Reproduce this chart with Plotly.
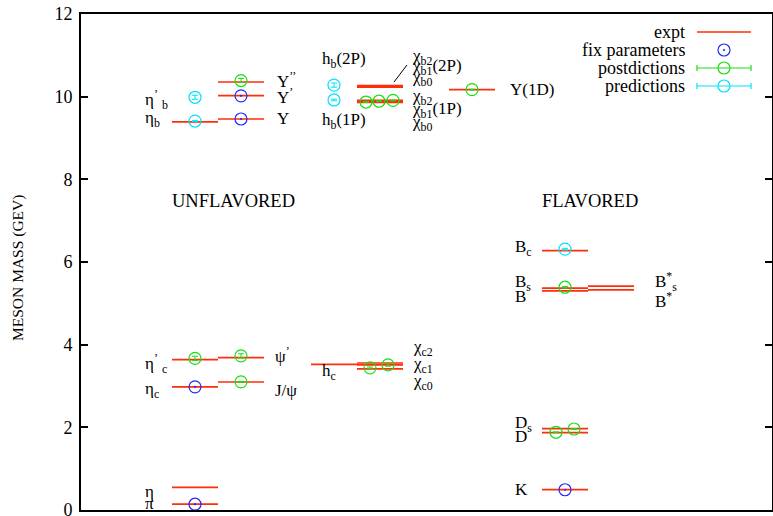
import plotly.graph_objects as go

# ---------------- data (masses in GeV) ----------------
# experimental levels: name, column, mass
expt_names = ["π", "η", "η_c", "η'_c", "η_b",
              "J/ψ", "ψ'", "Y", "Y'", "Y''",
              "h_c",
              "χ_c0", "χ_c1", "χ_c2",
              "χ_b0(1P)", "χ_b1(1P)", "χ_b2(1P)",
              "χ_b0(2P)", "χ_b1(2P)", "χ_b2(2P)",
              "Y(1D)",
              "K", "D", "D_s", "B", "B_s", "B_c",
              "B*", "B*_s"]
expt_col = ["A", "A", "A", "A", "A",
            "B", "B", "B", "B", "B",
            "C",
            "D", "D", "D",
            "D", "D", "D",
            "D", "D", "D",
            "E",
            "F", "F", "F", "F", "F", "F",
            "G", "G"]
expt_mass = [0.140, 0.548, 2.98, 3.64, 9.39,
             3.097, 3.686, 9.46, 10.023, 10.355,
             3.525,
             3.415, 3.511, 3.556,
             9.859, 9.893, 9.912,
             10.232, 10.255, 10.269,
             10.17,
             0.494, 1.87, 1.968, 5.30, 5.367, 6.275,
             5.325, 5.415]

# fitted parameters (blue)
fix_col = ["A", "A", "B", "B", "F"]
fix_mass = [0.14, 2.98, 9.46, 10.02, 0.49]

# postdictions (green)
post_col = ["A", "B", "B", "B", "D", "D", "D", "D", "D", "E", "F", "F", "F"]
post_slot = [0, 0, 0, 0, -10, 8, -14, -1, 13, 0, -9, 9, 0]
post_mass = [3.67, 3.10, 3.73, 10.39, 3.44, 3.51, 9.87, 9.89, 9.91, 10.17, 1.88, 1.96, 5.39]
post_err = [0.05, 0.01, 0.05, 0.05, 0.02, 0.03, 0.01, 0.01, 0.01, 0.01, 0.01, 0.01, 0.02]

# predictions (cyan)
pred_col = ["A", "A", "C", "C", "F"]
pred_mass = [9.985, 9.41, 10.28, 9.92, 6.31]
pred_err = [0.05, 0.01, 0.05, 0.02, 0.02]

y_ticks = [0, 2, 4, 6, 8, 10, 12]

# ---------------- layout constants ----------------
W, H = 773, 516
L, R, T, B = 81, 772, 14, 510
col_center = {"A": 195, "B": 241, "C": 334, "D": 380, "E": 472, "F": 565, "G": 611}
HALF = 23
SERIF = "Liberation Serif"
RED = "rgb(255,45,10)"
BLUE = "rgb(30,40,255)"
GREEN = "rgb(20,225,20)"
CYAN = "rgb(0,225,255)"

fig = go.Figure()

# experimental levels
lx, ly = [], []
for c, m in zip(expt_col, expt_mass):
    x0 = col_center[c]
    lx += [x0 - HALF, x0 + HALF, None]
    ly += [m, m, None]
fig.add_trace(go.Scatter(x=lx, y=ly, mode="lines", line=dict(color=RED, width=1.7),
                         showlegend=False, hoverinfo="skip", cliponaxis=False))

fig.add_trace(go.Scatter(x=[col_center[c] for c in fix_col], y=fix_mass, mode="markers",
                         marker=dict(symbol="circle-open-dot", size=12, color=BLUE,
                                     line=dict(width=1.2, color=BLUE)),
                         showlegend=False, cliponaxis=False))

fig.add_trace(go.Scatter(x=[col_center[c] + s for c, s in zip(post_col, post_slot)], y=post_mass,
                         mode="markers",
                         error_y=dict(type="data", array=post_err, color=GREEN, thickness=1, width=3),
                         marker=dict(symbol="circle-open", size=12, color=GREEN,
                                     line=dict(width=1.2, color=GREEN)),
                         showlegend=False, cliponaxis=False))

fig.add_trace(go.Scatter(x=[col_center[c] for c in pred_col], y=pred_mass, mode="markers",
                         error_y=dict(type="data", array=pred_err, color=CYAN, thickness=1, width=3),
                         marker=dict(symbol="circle-open", size=12, color=CYAN,
                                     line=dict(width=1.2, color=CYAN)),
                         showlegend=False, cliponaxis=False))

# ---------------- hand-drawn key (gnuplot style, text right of sample) ----------------
def fx(px):
    return (px - L) / (R - L)

def fy(py):
    return (B - py) / (B - T)

key_rows = [("expt", 32), ("fix parameters", 50), ("postdictions", 68), ("predictions", 86)]
kx = [fx(697), fx(751)]
fig.add_trace(go.Scatter(x=kx, y=[fy(32)] * 2, mode="lines", line=dict(color=RED, width=1.7),
                         xaxis="x2", yaxis="y2", showlegend=False, hoverinfo="skip"))
fig.add_trace(go.Scatter(x=[fx(724)], y=[fy(50)], mode="markers", xaxis="x2", yaxis="y2",
                         marker=dict(symbol="circle-open-dot", size=12, color=BLUE,
                                     line=dict(width=1.2, color=BLUE)),
                         showlegend=False, hoverinfo="skip"))
for col, py in [(GREEN, 68), (CYAN, 86)]:
    fig.add_trace(go.Scatter(x=[fx(724)], y=[fy(py)], mode="markers", xaxis="x2", yaxis="y2",
                             error_x=dict(type="data", array=[fx(751) - fx(724)], color=col,
                                          thickness=1.2, width=3),
                             marker=dict(symbol="circle-open", size=12, color=col,
                                         line=dict(width=1.2, color=col)),
                             showlegend=False, hoverinfo="skip"))

annotations = []
for txt, py in key_rows:
    annotations.append(dict(x=fx(687), y=fy(py), xref="paper", yref="paper", text=txt,
                            xanchor="right", yanchor="middle", showarrow=False,
                            font=dict(family=SERIF, size=18, color="black")))

# ---------------- state labels ----------------
labels = [
    ("η<sub>b</sub>", 143, 119), ("η<sup>’</sup> <sub>b</sub>", 143, 99),
    ("Y<sup>’’</sup>", 275, 80), ("Y<sup>’</sup>", 275, 96), ("Y", 275, 118),
    ("h<sub>b</sub>(2P)", 320, 60), ("h<sub>b</sub>(1P)", 320, 121),
    ("χ<sub>b2</sub>", 410, 57), ("χ<sub>b1</sub>(2P)", 410, 67), ("χ<sub>b0</sub>", 410, 78),
    ("χ<sub>b2</sub>", 410, 97), ("χ<sub>b1</sub>(1P)", 410, 110), ("χ<sub>b0</sub>", 410, 123),
    ("Y(1D)", 508, 89),
    ("η<sup>’</sup> <sub>c</sub>", 143, 363), ("η<sub>c</sub>", 143, 390),
    ("ψ<sup>’</sup>", 273, 355), ("J/ψ", 273, 390),
    ("h<sub>c</sub>", 320, 372),
    ("χ<sub>c2</sub>", 411, 348), ("χ<sub>c1</sub>", 411, 365), ("χ<sub>c0</sub>", 411, 382),
    ("η", 143, 491), ("π", 143, 503),
    ("B<sub>c</sub>", 513, 248), ("B<sub>s</sub>", 513, 283), ("B", 513, 296),
    ("B<sup>*</sup><sub>s</sub>", 653, 281), ("B<sup>*</sup>", 653, 300),
    ("D<sub>s</sub>", 513, 424), ("D", 513, 436),
    ("K", 513, 489),
]
for txt, px, py in labels:
    annotations.append(dict(x=px, y=fy(py), xref="x", yref="paper", text=txt,
                            xanchor="left", yanchor="middle", showarrow=False,
                            font=dict(family=SERIF, size=17, color="black")))

for txt, px, py in [("UNFLAVORED", 233, 201), ("FLAVORED", 590, 201)]:
    annotations.append(dict(x=px, y=fy(py), xref="x", yref="paper", text=txt,
                            xanchor="center", yanchor="middle", showarrow=False,
                            font=dict(family=SERIF, size=18.5, color="black")))

# rotated axis title placed like gnuplot's
annotations.append(dict(x=fx(18), y=fy(268), xref="paper", yref="paper",
                        text="MESON MASS (GEV)", textangle=-90, showarrow=False,
                        xanchor="center", yanchor="middle",
                        font=dict(family=SERIF, size=15.5, color="black")))

shapes = [dict(type="line", xref="x", yref="paper", x0=394, x1=407, y0=fy(82), y1=fy(65),
               line=dict(color="black", width=1))]

fig.update_layout(
    width=W, height=H,
    margin=dict(l=L, r=W - R, t=T, b=H - B, autoexpand=False),
    plot_bgcolor="white", paper_bgcolor="white",
    xaxis=dict(range=[L, R], showgrid=False, zeroline=False, showticklabels=False,
               ticks="", showline=True, linecolor="black", linewidth=2, mirror=True,
               fixedrange=True),
    yaxis=dict(range=[0, 12], tickvals=y_ticks, ticktext=[str(v) for v in y_ticks],
               showgrid=False, zeroline=False, ticks="inside", ticklen=7, tickwidth=2,
               tickcolor="black", showline=True, linecolor="black", linewidth=2,
               mirror="ticks", tickfont=dict(family=SERIF, size=18, color="black"),
               ticklabelstandoff=3, ticklabeloverflow="allow", automargin=False),
    xaxis2=dict(range=[0, 1], overlaying="x", visible=False, fixedrange=True),
    yaxis2=dict(range=[0, 1], overlaying="y", visible=False, fixedrange=True),
    annotations=annotations,
    shapes=shapes,
)

fig.write_html("out.html", config={"displayModeBar": False},
               post_script="document.body.style.margin='0';")
